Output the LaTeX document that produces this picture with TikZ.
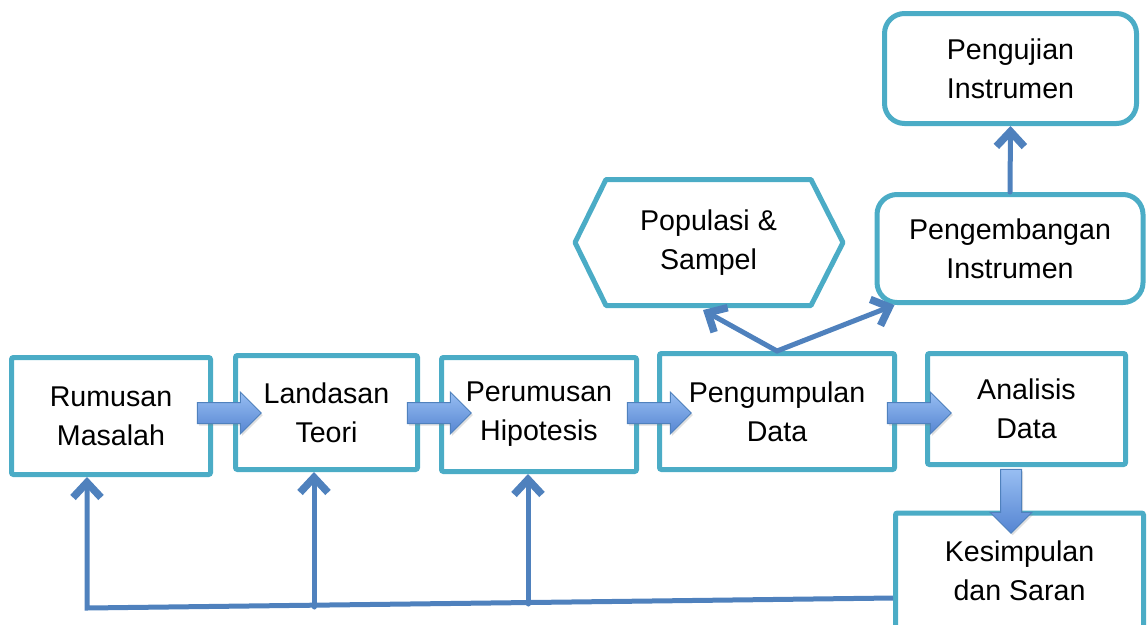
\documentclass[tikz,border=0pt]{standalone}
\usepackage{fontspec}
\setmainfont{Liberation Sans}
\usetikzlibrary{arrows.meta,shapes.arrows,shadows,calc}

\definecolor{boxline}{HTML}{4BACC6}
\definecolor{linkblue}{HTML}{4F81BD}
\definecolor{arrowlight}{HTML}{98BEF2}
\definecolor{arrowdark}{HTML}{5585D2}

\tikzset{
	box/.style={draw=boxline, line width=5pt, rounded corners=2pt, align=center,
		inner sep=0pt, font=\fontsize{28.6}{39}\selectfont},
	roundbox/.style={box, rounded corners=20pt},
	link/.style={draw=linkblue, line width=5pt, line cap=round},
	blockarrow/.style={single arrow, draw=linkblue, line width=1pt,
		top color=arrowlight, bottom color=arrowdark,
		inner sep=0pt, inner ysep=10pt, minimum height=64pt,
		single arrow head extend=10.5pt, single arrow tip angle=90,
		drop shadow={opacity=0.25, shadow xshift=1.5pt, shadow yshift=-2pt}}
}

\begin{document}
\begin{tikzpicture}[x=1pt,y=-1pt,>={Straight Barb[length=15pt,width=28pt,line width=7.5pt]}]
				\useasboundingbox (0,0) rectangle (1147,624);

				% main row
				\node[box, minimum width=199, minimum height=117] (rumusan) at (111,416) {Rumusan\\Masalah};
				\node[box, minimum width=182, minimum height=114] (landasan) at (326.5,412.5) {Landasan\\Teori};
				\node[box, minimum width=195, minimum height=114] (perumusan) at (539,414.5) {Perumusan\\Hipotesis};
				\node[box, minimum width=235, minimum height=116] (pengumpulan) at (777,411.5) {Pengumpulan\\Data};
				\node[box, minimum width=198, minimum height=111] (analisis) at (1026.5,409) {Analisis\\Data};
				\node[box, minimum width=248, minimum height=116] (kesimpulan) at (1019.5,571) {Kesimpulan\\dan Saran};

				% upper part
				\node[box, draw=none, outer sep=0pt, minimum width=205, minimum height=126] (populasi) at (708.5,242.5) {Populasi \&\\Sampel};
				\draw[draw=boxline, line width=5pt, line join=round]
					(populasi.north west)
					-- (populasi.north east)
					-- ([xshift=32pt]populasi.east)
					-- (populasi.south east)
					-- (populasi.south west)
					-- ([xshift=-31pt]populasi.west)
					-- cycle;
				\node[roundbox, minimum width=266, minimum height=108] (pengembangan) at (1010,248.5) {Pengembangan\\Instrumen};
				\node[roundbox, minimum width=252, minimum height=110] (pengujian) at (1010.5,68.5) {Pengujian\\Instrumen};

				% block arrows
				\node[blockarrow] (ar1) at (224,413) {};
				\node[blockarrow] (ar2) at (434,413) {};
				\node[blockarrow] (ar3) at (654,413) {};
				\node[blockarrow] (ar4) at (914,413) {};
				\node[blockarrow, rotate=-90] (ar5) at (1011,496) {};

				% links
				\coordinate (popbawah) at (703,310);
				\draw[link,->] (pengumpulan.north) -- (popbawah);
				\draw[link,->] (pengumpulan.north) -- ([xshift=20pt]pengembangan.south west);
				\draw[link,->] (pengembangan.north) -- (pengujian.south);

				% feedback
				\coordinate (balik) at ($(kesimpulan.west)+(0,27)$);
				\coordinate (sudut) at (87,608);
				\coordinate (f2) at (314,607);
				\coordinate (f3) at (528,604);
				\draw[link,->,line cap=butt] (balik) -- (sudut) -- (sudut |- rumusan.south);
				\draw[link,->] (f2) -- (f2 |- landasan.south);
				\draw[link,->] (f3) -- (f3 |- perumusan.south);

			\end{tikzpicture}
\end{document}
